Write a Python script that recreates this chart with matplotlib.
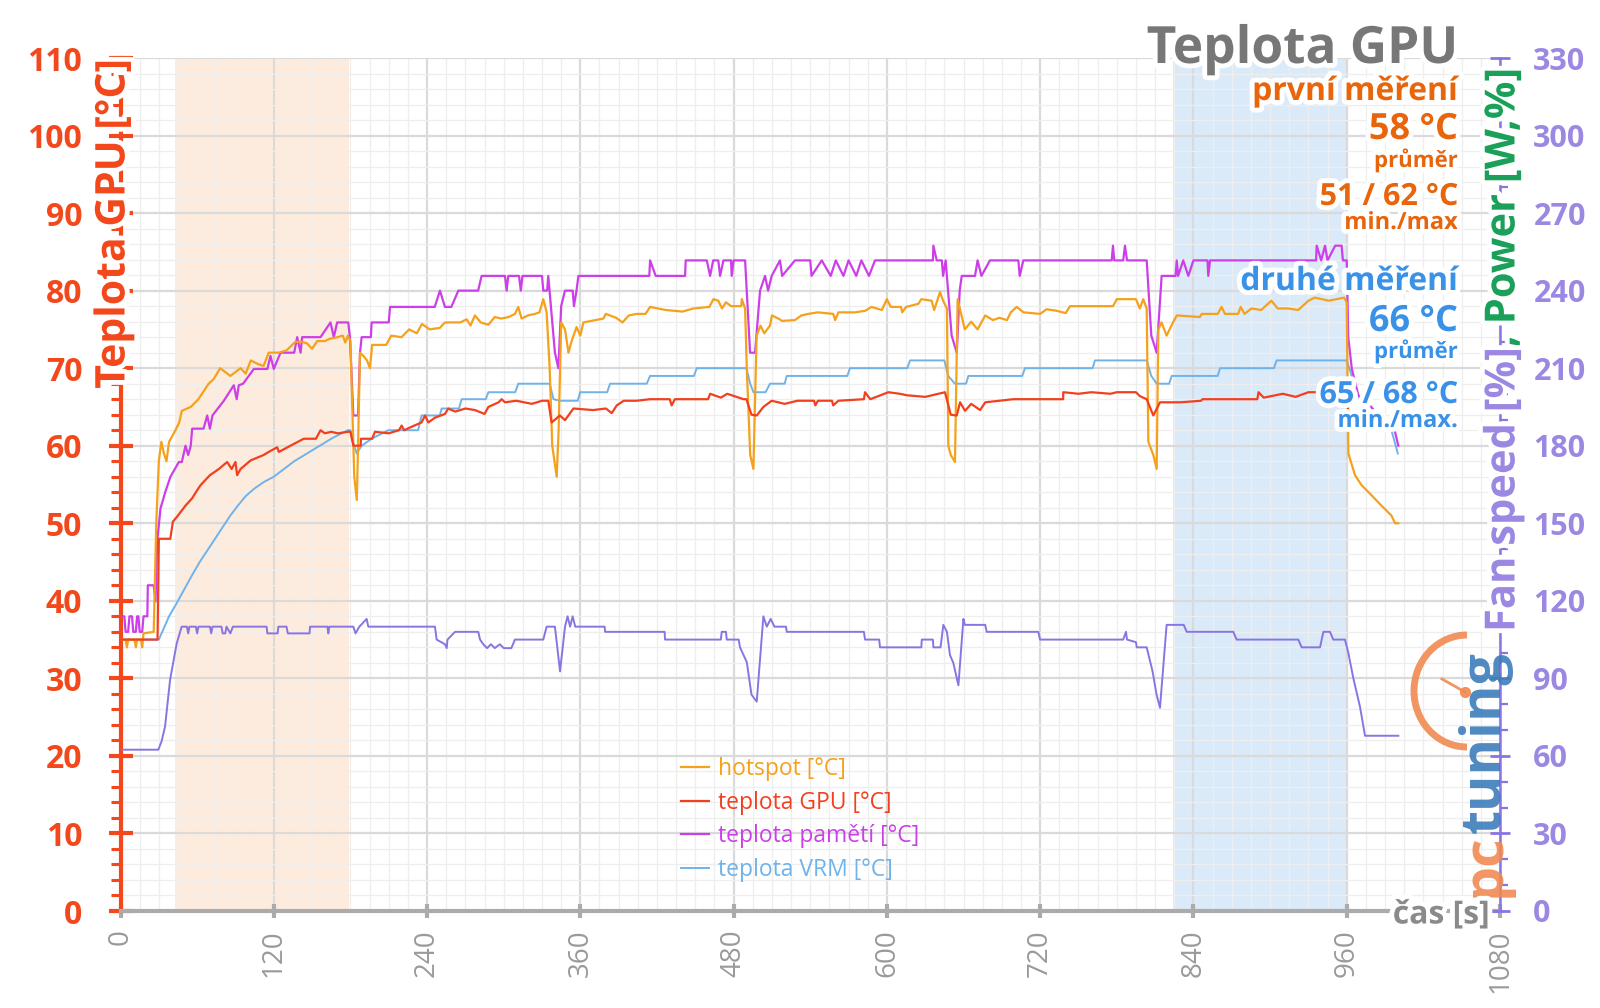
import matplotlib
matplotlib.use("Agg")
import matplotlib.pyplot as plt
import matplotlib.patheffects as pe
from matplotlib.patches import Arc
from matplotlib.lines import Line2D
from matplotlib.ticker import MultipleLocator

plt.rcParams['font.family'] = ['Open Sans', 'DejaVu Sans']

# ---- data (time [s], value) ----
hs_t = [0, 4, 5, 6, 11, 12, 13, 16, 17, 18, 26, 28, 30, 32, 34, 36, 38, 43, 46, 48, 55, 61, 65, 69, 73,
        78, 82, 86, 90, 94, 98, 102, 108, 112, 116, 124, 130, 137, 142, 146, 150, 154, 160, 164, 170,
        174, 176, 178, 180, 182, 183, 185, 186, 187.5, 190, 193, 195.3, 197, 208, 212, 220, 226, 232,
        236, 242, 250, 254, 266, 271, 274, 277.5, 282, 288, 293, 298, 304, 308.8, 311.4, 314, 319,
        324.5, 328, 331, 333.6, 336, 338, 341.5, 343, 345, 348, 350.7, 353, 357, 360, 362.4, 378, 380,
        388, 393, 398, 404, 411, 414.6, 427, 440, 448.5, 461, 464.2, 468, 471, 474, 478, 486, 486.4,
        489, 490.3, 493, 495.5, 498, 501, 504, 508.5, 510, 515, 518, 528, 533, 538.5, 546, 558, 559.5,
        562, 575, 583, 588, 596, 600, 603, 611, 612, 615, 624.6, 627, 635, 637, 641.6, 644, 647, 648.1,
        650, 653.3, 655.4, 661, 666, 671, 677, 683, 688, 694, 697, 701.6, 707, 720, 725, 733, 740,
        743.4, 777, 780, 795, 798, 800.7, 803.4, 804.7, 808.6, 811.2, 812.5, 815, 819, 824, 827, 845,
        846.5, 859, 862, 864.7, 875, 877, 880, 885.5, 893, 901, 906, 914, 922, 930, 935, 946, 958, 960,
        961.3, 966.5, 971.7, 979.5, 987, 995, 997.8, 1000.4]
hs_v = [35, 35, 34, 35, 35, 34, 35, 35, 34, 35.8, 36, 50, 58, 60.5, 59, 58, 60.5, 62, 63, 64.5, 65, 66,
        67, 68, 68.6, 70, 69.5, 69, 69.5, 70, 69.3, 71, 70.5, 70.3, 72, 72, 72.3, 73.4, 73.4, 73.2, 72.5,
        73.5, 73.5, 73.8, 74, 74.2, 73.3, 74.2, 73.5, 62, 56, 53, 60, 72, 71.6, 71, 70, 73, 73, 74.2,
        74, 75, 74.5, 75.7, 75, 75.2, 75.9, 75.9, 76.3, 75.5, 76.8, 75.9, 75.6, 76.6, 76.4, 76.6, 77,
        77.9, 76.4, 76.8, 77, 77.2, 78.9, 77.2, 70, 60, 56, 62, 75.9, 75, 72, 73.4, 75.3, 74.2, 75.9,
        76.4, 77, 76.5, 75.9, 76.8, 77, 77, 77.9, 77.5, 77.3, 77.7, 77.9, 78.9, 78.7, 77.7, 78.5, 78,
        78, 78.9, 77.7, 70, 58.8, 57, 74.2, 75.5, 74.5, 75.5, 76.8, 76.4, 76.1, 76.2, 76.8, 77, 77.2,
        77, 76.2, 77.2, 77.2, 77.4, 77.9, 77.5, 78.9, 77.9, 77.9, 77.2, 77.9, 78.3, 78.9, 78.7, 77.5,
        79.8, 78.7, 77.7, 60, 58.8, 57.9, 78.9, 75, 76, 75, 76.8, 76.2, 76.5, 76.2, 77.2, 77.9, 77.2,
        77, 77.6, 77.4, 77.1, 78, 78, 78.9, 78.9, 77.7, 78.9, 77.7, 60.5, 58.8, 57, 75, 75.9, 74.2,
        75.9, 76.8, 76.6, 77, 77, 77.9, 77, 77, 77.9, 77, 77.7, 77.5, 78.7, 77.7, 77.7, 77.5, 78.7,
        79.1, 78.7, 79.1, 78.5, 59, 56.2, 54.9, 53.6, 52.3, 51, 50, 50]

gpu_t = [0, 29, 30, 39, 41, 45, 51, 56, 59, 62.6, 70, 77, 83.5, 87, 90, 91.3, 94, 101.8, 112, 116,
         122.7, 124, 133, 143.5, 153, 156.6, 160, 165, 170, 178.3, 180, 182.3, 188, 188.3, 197, 199.2,
         210, 218, 220.1, 222, 230, 235.7, 238.4, 241, 246, 254, 256.6, 262, 270, 277.5, 285, 288, 296,
         298.4, 301, 310, 322, 330, 334.9, 337.5, 344, 348, 354.6, 370, 380, 384.6, 388.5, 394, 404,
         414.6, 430, 431.5, 434, 460, 461.6, 470, 475, 487.7, 490, 494, 498.1, 503.3, 509.8, 520, 530,
         543, 544, 546, 557, 558, 562, 582, 582.9, 587, 601.2, 610, 616, 630, 645.5, 650, 654.7, 657.3,
         661.2, 666, 673, 677, 699, 738, 738.1, 750, 760, 775, 780, 795, 798, 803.4, 808.6, 813.8, 830,
         846, 847, 890, 891, 895, 910, 920, 930, 937.8, 960, 962]
gpu_v = [35, 35, 48, 48, 50.2, 51, 52.3, 53.2, 54, 54.9, 56.2, 57, 57.9, 57, 57.9, 56.2, 57, 58.1, 58.8,
         59.2, 59.8, 59.2, 60, 60.9, 60.9, 62, 61.6, 61.8, 61.6, 61.8, 61.8, 60, 60, 60.9, 60.9, 61.8,
         61.6, 62, 62.6, 62, 62.6, 63, 63.9, 63, 63.6, 64.1, 64.8, 64.4, 64.8, 64.6, 64.1, 65, 65.6, 66,
         65.6, 65.8, 65.4, 65.8, 65.8, 63, 63.9, 63.3, 64.8, 64.6, 64.8, 64.2, 65.2, 65.8, 65.8, 66, 66,
         65.2, 66, 66, 66.7, 66.2, 66.7, 66, 66, 64, 63.9, 65, 65.8, 65.4, 65.8, 65.8, 65.2, 65.8, 65.8,
         65.2, 65.8, 66, 66.9, 66, 66.9, 66.7, 66.5, 66.3, 66.9, 64, 63.9, 65.6, 64.5, 65.4, 64.6, 65.6,
         66, 66, 66.9, 66.7, 66.9, 66.7, 66.9, 66.9, 66.4, 66, 63.9, 65.6, 65.6, 65.8, 66, 66, 66.9,
         66.2, 66.7, 66.3, 66.9, 66.9, 66.9, 63]

mem_t = [0, 3, 4, 6, 7, 9, 10, 12, 13, 14, 15, 17, 18, 21, 21.4, 26, 27.4, 28.7, 31.3, 35, 39.1, 45.7,
         48, 50.9, 53, 55, 56.1, 65, 67.9, 70, 72, 80.9, 88.7, 91, 92.6, 96, 104.4, 115, 117.4, 120,
         125.3, 136, 138.3, 141, 142.2, 156.6, 164.4, 167, 169.6, 178.3, 179.6, 182.3, 186, 187.5, 188.8,
         196, 196.6, 210, 211, 246, 250.1, 254, 259, 264.5, 280, 282.7, 301, 302.3, 303.6, 312, 313.4,
         314.7, 330, 331, 334, 334.9, 338, 340.1, 342.8, 345, 348, 354, 355, 357, 358.5, 414, 414.6,
         419, 442, 442.5, 459, 461.6, 464, 468, 469.4, 472, 478, 478.5, 480, 489, 492.9, 496.8, 500.7,
         504.6, 507, 509.8, 516.3, 518, 528, 540, 541, 549, 556, 560, 566, 570, 576, 580, 586, 590.7,
         636, 636.4, 639, 643, 644, 646, 650.7, 654.7, 657, 658.6, 669, 671, 674, 680.7, 702.9, 704,
         706.8, 776, 777, 778, 785, 786.4, 788, 803.4, 807, 811.2, 815.1, 826, 826.9, 828, 832, 836, 840,
         851, 851.6, 853, 936, 936.5, 940, 943, 945, 951, 956, 957, 960, 961.2, 964, 969.1, 976, 987,
         997.8, 1000.4]
mem_v = [38, 38, 36, 36, 38, 38, 36, 36, 38, 38, 36, 36, 38, 38, 42, 42, 39.9, 47.6, 51.9, 54, 56, 57.9,
         57.9, 60, 58.8, 60, 62.2, 62.2, 63.9, 62.2, 63.9, 65.8, 67.8, 66, 67.8, 68, 69.9, 69.9, 71.6,
         69.9, 72, 72, 74, 72, 74, 74, 75.9, 74, 75.9, 75.9, 74, 63.9, 63.9, 72, 74, 74, 75.9, 75.9,
         77.9, 77.9, 80, 77.9, 77.9, 80, 80, 81.9, 81.9, 80, 81.9, 81.9, 80, 81.9, 81.9, 80, 80, 81.9,
         76, 72, 70, 78, 80, 80, 78, 80, 81.9, 81.9, 83.9, 81.9, 81.9, 83.9, 83.9, 81.9, 83.9, 83.9,
         81.9, 83.9, 83.9, 81.9, 83.9, 83.9, 72, 72, 80, 81.9, 80, 81.9, 83.9, 81.9, 83.9, 83.9, 81.9,
         83.9, 81.9, 83.9, 81.9, 83.9, 81.9, 83.9, 81.9, 83.9, 83.9, 85.8, 83.9, 83.9, 81.9, 83.9,
         74.2, 72, 80, 81.9, 81.9, 83.9, 81.9, 83.9, 83.9, 81.9, 83.9, 83.9, 85.8, 83.9, 83.9, 85.8,
         83.9, 83.9, 74.2, 72, 81.9, 81.9, 83.9, 81.9, 83.9, 81.9, 83.9, 83.9, 81.9, 83.9, 83.9, 85.8,
         83.9, 85.8, 83.9, 85.8, 85.8, 83.9, 83.9, 74, 69.9, 66.5, 65.6, 63.5, 61.8, 60]

vrm_t = [0, 30, 34, 38, 44, 50, 56, 62, 68, 74, 80, 86, 92, 98, 105, 112, 120, 128, 136, 146, 156,
         166, 178, 180, 182, 184.9, 188.8, 196.6, 209.7, 233, 235.7, 250, 251.4, 265, 267.1, 286, 288,
         309, 311.4, 336, 339, 344, 358, 359.8, 381, 383.3, 412, 414.6, 449, 451.1, 490, 493, 495.5,
         505, 508.5, 520, 521.6, 569, 571.1, 616, 618.1, 645, 648, 653.3, 662, 663.8, 706, 708.1, 761,
         762.9, 803.4, 807, 811.2, 821, 823, 859, 860.8, 903, 905.1, 960, 963, 966.5, 972, 980, 988,
         995, 1000]
vrm_v = [35, 35, 36.5, 38, 39.7, 41.5, 43.3, 45, 46.5, 48, 49.5, 51, 52.3, 53.5, 54.5, 55.3, 56, 57,
         58, 59, 60, 61, 62, 62, 60.5, 59, 60, 60.9, 62, 62, 63.9, 63.9, 64.8, 64.8, 66, 66, 66.9,
         66.9, 68, 68, 66, 65.8, 65.8, 66.9, 66.9, 68, 68, 69, 69, 70, 70, 68, 66.9, 66.9, 68, 68, 69,
         69, 70, 70, 71, 71, 69, 68, 68, 69, 69, 70, 70, 71, 71, 69, 68, 68, 69, 69, 70, 70, 71, 71,
         69.5, 67.3, 65.5, 64.5, 63.2, 62, 59]

fan_t = [0, 29.6, 32.2, 34.9, 38.8, 44, 47.9, 52, 53, 54, 59, 60, 61, 70, 71, 72, 79, 80, 82, 83, 86,
         88, 114.4, 115, 123, 123.6, 130, 131, 148, 148.4, 162, 162.7, 163.5, 182.3, 184, 187, 192.7,
         194, 246.2, 247.5, 254, 255.4, 256, 261.9, 280.1, 281.5, 284, 287, 290, 293, 297, 300, 306,
         308.8, 331, 333.6, 340.1, 344.1, 348, 350, 352, 354, 356, 379, 379.4, 426, 426.3, 470, 470.7,
         474, 474.6, 484, 485, 490.3, 494, 498.1, 503.3, 506, 509, 512, 521, 521.6, 582, 582.9, 594,
         594.6, 627, 627.3, 636, 636.4, 642, 644.2, 647, 649.4, 652, 656, 659.9, 661, 677, 678.1, 718.6,
         719.9, 785, 787.2, 788, 795, 795.6, 803.4, 808, 811, 813.8, 819, 832.4, 834.7, 871.2, 873.8,
         922.1, 924.7, 939.1, 941.7, 946.9, 949.5, 958.6, 961.2, 965.2, 970.4, 974.3, 1000.4]
fan_v = [62.4, 62.4, 65.7, 71.4, 89.4, 103.5, 110, 110, 107.4, 110, 110, 107.4, 110, 110, 107.4, 110,
         110, 107.4, 107.4, 110, 107.4, 110, 110, 107.4, 107.4, 110, 110, 107.4, 107.4, 110, 110, 107.4,
         110, 110, 107.4, 110, 113, 110, 110, 105, 103.2, 101.7, 105, 108, 108, 105, 103.2, 101.7, 103.2,
         101.7, 103.2, 101.7, 101.7, 105, 105, 110, 110, 92.7, 110, 114, 110, 114, 110, 110, 108, 108,
         105, 105, 108, 108, 105, 105, 102, 96.3, 83.7, 81, 114, 110, 113, 110, 110, 108, 108, 105, 105,
         102, 102, 105, 105, 102, 102, 110.7, 108, 99, 96, 87.3, 113, 110.7, 110.7, 108, 108, 105, 105,
         108, 105, 104, 102, 102, 92.7, 84, 78.6, 110.7, 110.7, 108, 108, 105, 105, 102, 102, 108, 108,
         105, 105, 100, 90, 79, 67.8, 67.8]

series_labels = ['hotspot [°C]', 'teplota GPU [°C]', 'teplota pamětí [°C]', 'teplota VRM [°C]']
x_ticks = [0, 120, 240, 360, 480, 600, 720, 840, 960, 1080]

C_LEFT = '#F2481C'
C_HS = '#F5A11C'
C_GPU = '#F2401E'
C_MEM = '#CC3FE8'
C_VRM = '#70B2EA'
C_FAN = '#8A74E2'
C_RIGHT = '#9C88E2'
C_GREEN = '#1BA05A'
C_GRAY = '#8A8A8A'
C_FIRST = '#E8650C'
C_SECOND = '#3A92E8'

fig = plt.figure(figsize=(16, 10.08), dpi=100)
ax = fig.add_axes([120.5 / 1600, 1 - 911 / 1008, (1500 - 120.5) / 1600, (911 - 58) / 1008])
ax2 = ax.twinx()

# shaded measurement windows
ax.axvspan(43, 179, color='#FCE3CC', alpha=0.65, lw=0, zorder=0.3)
ax.axvspan(824, 960, color='#C9DFF7', alpha=0.65, lw=0, zorder=0.3)

ax.plot(hs_t, hs_v, color=C_HS, lw=1.6, label=series_labels[0], zorder=3)
ax.plot(gpu_t, gpu_v, color=C_GPU, lw=1.6, label=series_labels[1], zorder=3)
ax.plot(mem_t, mem_v, color=C_MEM, lw=1.6, label=series_labels[2], zorder=2.9)
ax.plot(vrm_t, vrm_v, color=C_VRM, lw=1.4, label=series_labels[3], zorder=2.8)
ax2.plot(fan_t, fan_v, color=C_FAN, lw=1.4)

ax.set_xlim(0, 1080)
ax.set_ylim(0, 110)
ax2.set_ylim(0, 330)

ax.set_xticks(x_ticks)
ax.xaxis.set_minor_locator(MultipleLocator(15))
ax.yaxis.set_major_locator(MultipleLocator(10))
ax.yaxis.set_minor_locator(MultipleLocator(2))
ax2.yaxis.set_major_locator(MultipleLocator(30))
ax2.yaxis.set_minor_locator(MultipleLocator(10))

ax.set_axisbelow(True)
ax.grid(which='major', color='#DADADA', lw=1.6)
ax.grid(which='minor', color='#EEEEEE', lw=0.9)

ax.spines['top'].set_visible(False)
ax2.spines['top'].set_visible(False)
ax.spines['right'].set_visible(False)
ax2.spines['left'].set_visible(False)
ax2.spines['bottom'].set_visible(False)
ax.spines['left'].set_color(C_LEFT)
ax.spines['left'].set_linewidth(3)
ax.spines['bottom'].set_color('#ABABAB')
ax.spines['bottom'].set_linewidth(3)
ax2.spines['right'].set_color(C_FAN)
ax2.spines['right'].set_linewidth(1.8)

ax.tick_params(axis='y', which='major', direction='inout', length=17, width=3, color=C_LEFT,
               labelcolor=C_LEFT, labelsize=23, pad=19)
ax.tick_params(axis='y', which='minor', direction='out', length=7, width=2.2, color=C_LEFT)
ax.tick_params(axis='x', which='major', direction='inout', length=10, width=3, color='#ABABAB',
               labelcolor='#9A9A9A', labelsize=20, labelrotation=90, pad=8)
ax.tick_params(axis='x', which='minor', length=0)
ax2.tick_params(axis='y', which='major', direction='inout', length=14, width=2, color=C_FAN,
                labelcolor=C_RIGHT, labelsize=22, pad=17)
ax2.tick_params(axis='y', which='minor', direction='out', length=6, width=1.6, color=C_FAN)
for lab in ax.get_yticklabels() + ax2.get_yticklabels():
    lab.set_fontweight('bold')

halo = [pe.withStroke(linewidth=7, foreground='white')]

# title and statistics
fx = 1458 / 1600


def ftext(y_px, s, size, color, weight='bold'):
    return fig.text(fx, 1 - y_px / 1008, s, ha='right', va='baseline', fontsize=size,
                    color=color, fontweight=weight, path_effects=halo, zorder=10)


ftext(63, 'Teplota GPU', 37, '#777777')
ftext(100, 'první měření', 23, C_FIRST)
ftext(139, '58 °C', 26, C_FIRST)
ftext(167, 'průměr', 16, C_FIRST)
ftext(205, '51 / 62 °C', 22, C_FIRST)
ftext(229, 'min./max', 17, C_FIRST)
ftext(290, 'druhé měření', 23, C_SECOND)
ftext(331, '66 °C', 26, C_SECOND)
ftext(358, 'průměr', 16, C_SECOND)
ftext(403, '65 / 68 °C', 22, C_SECOND)
ftext(427, 'min./max.', 17, C_SECOND)

# axis titles
fig.text(114 / 1600, 1 - 58 / 1008, 'Teplota GPU [°C]', rotation=90, ha='center', va='top',
         fontsize=29.5, color=C_LEFT, fontweight='bold', path_effects=halo, zorder=10)
pw = fig.text(1504 / 1600, 1 - 68 / 1008, ', Power [W,%]', rotation=90, ha='center', va='top',
              fontsize=30, color=C_GREEN, fontweight='bold', path_effects=halo, zorder=10)
fig.text(1490 / 1600, 1 - 915 / 1008, 'čas [s]', ha='right', va='center', fontsize=23,
         color=C_GRAY, fontweight='bold', path_effects=halo, zorder=10)

# legend
leg = fig.legend(loc='upper left', bbox_to_anchor=(672 / 1600, 1 - 748 / 1008), frameon=False,
                 fontsize=16.5, handlelength=1.2, handletextpad=0.4, labelspacing=0.42,
                 borderaxespad=0)
for txt, line in zip(leg.get_texts(), leg.get_lines()):
    txt.set_color(line.get_color())

# watermark logo
logo_c1, logo_c2 = '#F08A52', '#3C7DBA'
arc = Arc((14.67, 3.17), 1.06, 1.12, theta1=90, theta2=270, lw=5, color=logo_c1, alpha=0.9,
          transform=fig.dpi_scale_trans)
fig.add_artist(arc)
fig.add_artist(Line2D([14.65, 14.42], [3.16, 3.29], transform=fig.dpi_scale_trans, color=logo_c1,
                      lw=2, alpha=0.9))
fig.add_artist(Line2D([14.65], [3.16], transform=fig.dpi_scale_trans, marker='o', ms=7,
                      color=logo_c1, alpha=0.9))
pc = fig.text(1485 / 1600, 1 - 897 / 1008, 'pc', rotation=90, ha='center', va='bottom',
              fontsize=40, color=logo_c1, fontweight='bold', alpha=0.9, zorder=1)

fig.canvas.draw()
r = fig.canvas.get_renderer()
bb = pw.get_window_extent(r)
fig.text(1504 / 1600, bb.y0 / fig.bbox.height, 'Fan speed [%]', rotation=90, ha='center', va='top',
         fontsize=30, color=C_RIGHT, fontweight='bold', path_effects=halo, zorder=10)
bb2 = pc.get_window_extent(r)
fig.text(1485 / 1600, bb2.y1 / fig.bbox.height, 'tuning', rotation=90, ha='center', va='bottom',
         fontsize=40, color=logo_c2, fontweight='bold', alpha=0.9, zorder=1)

fig.savefig('out.png', dpi=100)
